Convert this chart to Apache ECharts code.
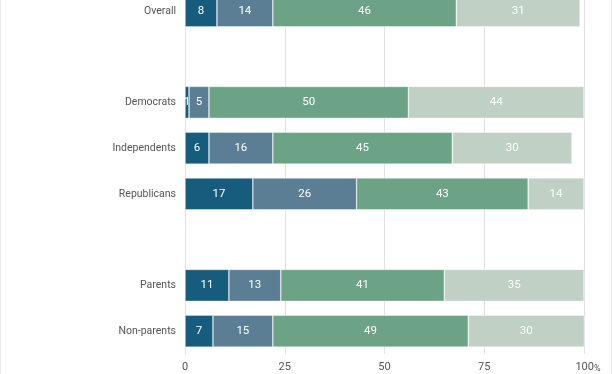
<!DOCTYPE html>
<html><head><meta charset="utf-8">
<script src="https://cdn.jsdelivr.net/npm/echarts@6/dist/echarts.min.js"></script>
<style>html,body{margin:0;padding:0;background:#fff;overflow:hidden;width:612px;height:374px}
#wrap{position:relative;width:612px;height:374px;overflow:hidden;box-sizing:border-box;border-left:1px solid #ececec;border-right:1px solid #ececec}
#c{position:absolute;left:0;top:-12px;width:610px;height:386px}</style>
</head><body><div id="wrap"><div id="c"></div></div>
<script>
var categories = ['Overall', ' ', 'Democrats', 'Independents', 'Republicans', '  ', 'Parents', 'Non-parents'];
var s1 = [8, '-', 1, 6, 17, '-', 11, 7];
var s2 = [14, '-', 5, 16, 26, '-', 13, 15];
var s3 = [46, '-', 50, 45, 43, '-', 41, 49];
var s4 = [31, '-', 44, 30, 14, '-', 35, 30];
var colors = ['#175c7c', '#5b7e94', '#6ca386', '#c0d0c4'];
var xTicks = [0, 25, 50, 75, 100];

var chart = echarts.init(document.getElementById('c'), null, {renderer: 'canvas'});
function mk(name, data, i) {
  return {
    name: name, type: 'bar', stack: 'all', data: data, barWidth: 32, z: 5 - i,
    itemStyle: {color: colors[i], borderColor: 'rgba(255,255,255,0.7)', borderWidth: 0.6},
    label: {show: true, position: 'inside', color: '#fff', fontSize: 11.5, fontFamily: 'Roboto'},
    emphasis: {disabled: true}
  };
}
chart.setOption({
  animation: false,
  textStyle: {fontFamily: 'Roboto'},
  grid: {left: 184, right: 27, top: 0, bottom: 20, containLabel: false},
  xAxis: {
    type: 'value', min: 0, max: 100, interval: 25,
    axisLine: {show: false}, axisTick: {show: false},
    splitLine: {show: true, lineStyle: {color: '#e2e2e2', width: 1}},
    axisLabel: {
      color: '#555', fontSize: 11, margin: 8, fontFamily: 'Roboto',
      formatter: function (v) { return v === 100 ? '{sp|}100{p|%}' : String(v); },
      rich: {sp: {width: 8}, p: {fontSize: 9, color: '#555', padding: [2, 0, 0, 0]}}
    }
  },
  yAxis: {
    type: 'category', data: categories, inverse: true,
    axisLine: {show: false}, axisTick: {show: false}, splitLine: {show: false},
    axisLabel: {color: '#555', fontSize: 10.5, margin: 9, fontFamily: 'Roboto'}
  },
  series: [mk('a', s1, 0), mk('b', s2, 1), mk('c', s3, 2), mk('d', s4, 3)]
});
</script></body></html>
